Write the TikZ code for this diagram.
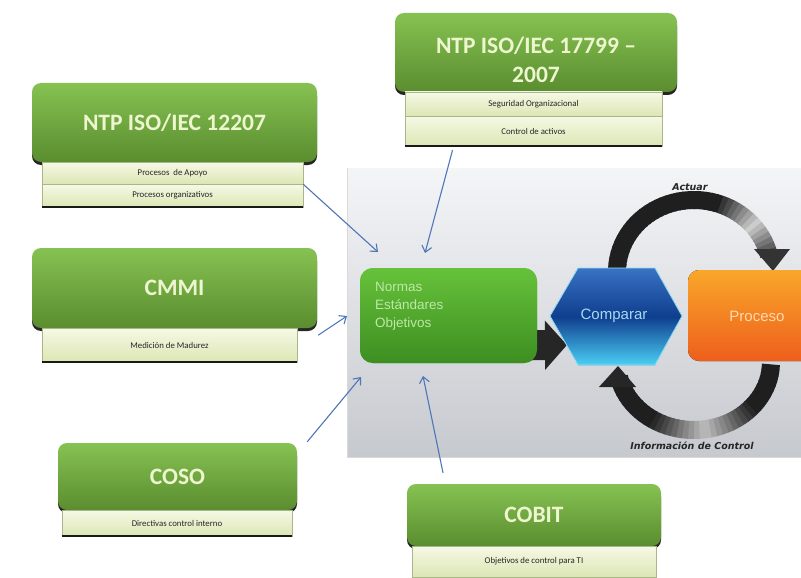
\documentclass[tikz,border=0pt]{standalone}
\usepackage{fontspec}
\setmainfont{Carlito}
\newfontfamily\arialf{Liberation Sans}
\newfontfamily\dejaf{DejaVu Sans}
\usetikzlibrary{arrows.meta}
\definecolor{hgTop}{HTML}{86C252}
\definecolor{hgBot}{HTML}{5A8D2F}
\definecolor{hgText}{HTML}{EEF6CF}
\definecolor{sbTop}{HTML}{F6F9E6}
\definecolor{sbBot}{HTML}{DCE6B4}
\definecolor{sbEdge}{HTML}{A9B68A}
\definecolor{pnTop}{HTML}{F4F5F7}
\definecolor{pnBot}{HTML}{C6C9CE}
\definecolor{nmTop}{HTML}{66C23A}
\definecolor{nmBot}{HTML}{3D8E21}
\definecolor{nmText}{HTML}{BDE8A6}
\definecolor{hxTop}{HTML}{3A72C4}
\definecolor{hxMid}{HTML}{0F3E8E}
\definecolor{hxBot}{HTML}{4ACFF4}
\definecolor{hxText}{HTML}{A9D8F5}
\definecolor{orTop}{HTML}{F9A72A}
\definecolor{orBot}{HTML}{EE5E1C}
\definecolor{orText}{HTML}{FFD9B0}
\definecolor{bluArr}{HTML}{4F76B8}
\tikzset{
  hdr/.style={rounded corners=9pt, top color=hgTop, bottom color=hgBot,
    text=hgText, font=\fontsize{23.5}{29}\selectfont\bfseries, align=center, inner sep=0pt},
  hshadow/.style={fill=black!85, rounded corners=9pt},
  subrow/.style={top color=sbTop, bottom color=sbBot, draw=sbEdge, line width=0.5pt,
    text=black!85, font=\fontsize{8.8}{10}\selectfont, inner sep=0pt},
  bluearrow/.style={draw=bluArr, line width=1.1pt, -{Straight Barb[length=6pt,width=10pt]}},
  lbl/.style={font=\dejaf\fontsize{9.5}{11}\selectfont\bfseries\itshape, text=black!85}
}
\newcommand\GreenHead[6]{%
  \fill[hshadow] (#2,#3+4) rectangle (#4,#5+3);
  \node[hdr, minimum width={#4-#2}, minimum height={#5-#3}] (#1) at ({(#2+#4)/2},{(#3+#5)/2}) {#6};
}
\newcommand\SubRow[6]{%
  \node[subrow, minimum width={#4-#2}, minimum height={#5-#3}] (#1) at ({(#2+#4)/2},{(#3+#5)/2}) {#6};
}
\begin{document}
\begin{tikzpicture}[x=1pt,y=-1pt]
\useasboundingbox (0,0) rectangle (801,578);
\fill[white] (0,0) rectangle (801,578);

% grey panel
\fill[top color=pnTop, bottom color=pnBot] (347,168) rectangle (801,457);
\draw[black!15, line width=0.6pt] (347,168) -- (347,457) -- (801,457);

% circular arrows (top: Actuar)
\foreach \a in {182,186,...,342} {
  \pgfmathtruncatemacro\p{88-68*max(0,1-abs(\a-318)/32)}
  \draw[line width=18pt, color=black!\p] ({694+77*cos(\a)},{272+72*sin(\a)})
     arc[start angle=\a, end angle=\a+5, x radius=77, y radius=72];
}
\fill[black!80] (754,249) -- (790,249) -- (773,271) -- cycle;
% bottom: Informacion de Control
\foreach \a in {2,6,...,162} {
  \pgfmathtruncatemacro\p{88-62*max(0,1-abs(\a-80)/40)}
  \draw[line width=18pt, color=black!\p] ({694+77*cos(\a)},{362+68*sin(\a)})
     arc[start angle=\a, end angle=\a+5, x radius=77, y radius=68];
}
\fill[black!85] (599,387) -- (636,387) -- (618,366) -- cycle;

% normas box
\node[rounded corners=13pt, top color=nmTop, bottom color=nmBot, minimum width=177pt, minimum height=95pt, inner sep=0pt] (nor) at (448.5,315.5) {};
\coordinate (tipc) at (567,345);
% block arrow normas -> comparar
\draw[line width=30pt, black!85, -{Triangle[length=22pt,width=48pt]}] ([xshift=-40pt,yshift=-30pt]nor.east) -- (tipc);
\node[rounded corners=13pt, top color=nmTop, bottom color=nmBot, minimum width=177pt, minimum height=95pt, inner sep=0pt] at (nor) {};
\node[anchor=north west, align=left, text=nmText, font=\arialf\fontsize{13.5}{18}\selectfont, inner sep=0pt] (normtxt) at (375,282) {Normas\\Estándares\\Objetivos};

% hexagon
\fill[top color=hxTop, bottom color=hxBot, middle color=hxMid] (550,316) -- (578,268) -- (655,268) -- (682,316) -- (655,365) -- (578,365) -- cycle;
\draw[hxBot!60!white, line width=0.8pt] (550,316) -- (578,268) -- (655,268) -- (682,316) -- (655,365) -- (578,365) -- cycle;
\node[text=hxText, font=\arialf\fontsize{15}{18}\selectfont] (cmp) at (614,316) {Comparar};

% proceso
\fill[top color=orTop, bottom color=orBot, rounded corners=11pt] (688,270) rectangle (830,361);
\node[text=orText, font=\arialf\fontsize{15}{18}\selectfont] (proc) at (757,316) {Proceso};

% arc labels
\node[lbl] (act) at (690,187) {Actuar};
\node[lbl] (info) at (692,446) {Información de Control};

% left/top/bottom boxes
\GreenHead{h1}{32}{83}{317}{162}{NTP ISO/IEC 12207}
\SubRow{s1a}{42}{162}{303}{184}{Procesos\ \ de Apoyo}
\SubRow{s1b}{42}{184}{303}{207}{Procesos organizativos}
\draw[black!90, line width=2pt] (s1b.south west) -- (s1b.south east);

\GreenHead{h2}{395}{13}{677}{92}{\rule{0pt}{31pt}NTP ISO/IEC 17799 –\\2007}
\SubRow{s2a}{405}{92}{662}{116}{Seguridad Organizacional}
\SubRow{s2b}{405}{116}{662}{146}{Control de activos}
\draw[black!90, line width=2pt] (s2b.south west) -- (s2b.south east);

\GreenHead{h3}{32}{248}{317}{328}{CMMI}
\SubRow{s3a}{42}{328}{297}{362}{Medición de Madurez}
\draw[black!90, line width=2pt] (s3a.south west) -- (s3a.south east);

\GreenHead{h4}{58}{443}{297}{510}{COSO}
\SubRow{s4a}{62}{510}{292}{536}{Directivas control interno}
\draw[black!90, line width=2pt] (s4a.south west) -- (s4a.south east);

\GreenHead{h5}{407}{484}{661}{546}{COBIT}
\SubRow{s5a}{412}{546}{656}{577}{Objetivos de control para TI}

% blue arrows
\coordinate (t1) at (378,252);
\coordinate (t2) at (425,253);
\coordinate (t3) at (347,316);
\coordinate (t4) at (361,377);
\coordinate (t5) at (423,376);
\draw[bluearrow] (s1a.south east) -- (t1);
\draw[bluearrow] ([xshift=-81pt,yshift=-4pt]s2b.south) -- (t2);
\draw[bluearrow] ([xshift=1pt,yshift=-7pt]h3.south east) -- (t3);
\draw[bluearrow] ([xshift=10pt,yshift=1pt]h4.north east) -- (t4);
\draw[bluearrow] ([xshift=-91pt,yshift=11pt]h5.north) -- (t5);
\end{tikzpicture}
\end{document}
